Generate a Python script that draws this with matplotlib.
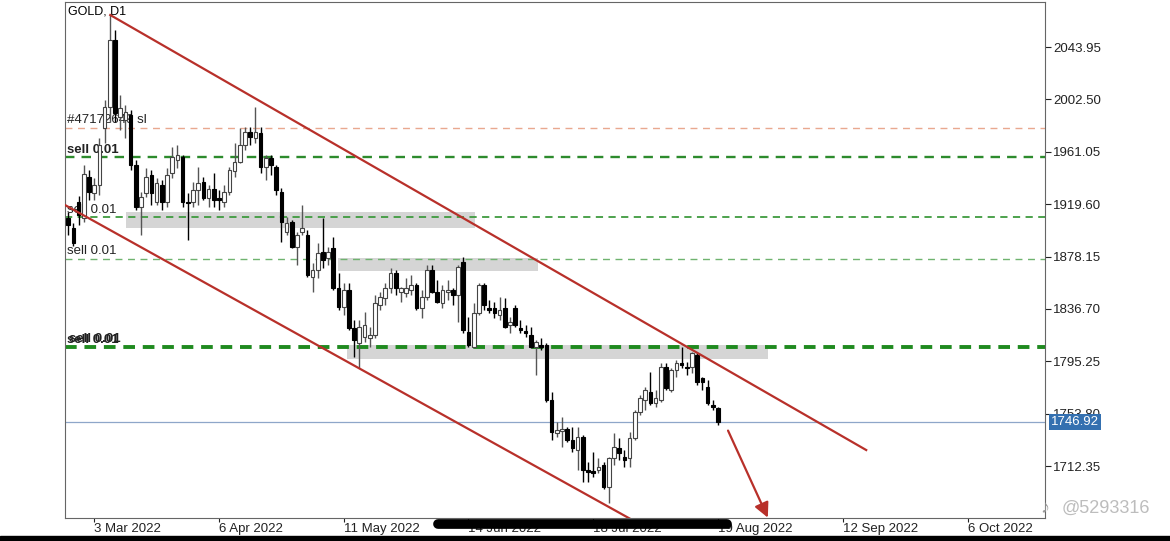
import numpy as np
import matplotlib.pyplot as plt
from matplotlib.patches import Rectangle
from matplotlib.lines import Line2D
import matplotlib.transforms as mtransforms

plt.rcParams['font.family'] = ['Liberation Sans', 'DejaVu Sans']

# daily candles (bar index 0 = 24 Feb 2022)
opens = [1908.6, 1900.7, 1921.3, 1908.6, 1941.1, 1928.4, 1934.7, 1979.9, 1996.5, 2049.5,
         1988.6, 1986.2, 1990.1, 1950.6, 1917.3, 1928.4, 1942.7, 1921.3, 1934.7, 1921.3,
         1944.2, 1954.5, 1956.9, 1921.3, 1921.3, 1930.8, 1937.1, 1924.5, 1931.6, 1924.5,
         1921.3, 1929.2, 1945.8, 1952.9, 1966.4, 1976.7, 1971.9, 1975.9, 1949.0, 1956.1,
         1949.0, 1929.2, 1897.5, 1905.5, 1885.7, 1897.5, 1895.2, 1861.9, 1867.5, 1881.7,
         1877.0, 1884.9, 1853.2, 1838.2, 1851.6, 1821.6, 1809.7, 1814.5, 1813.7, 1816.0,
         1839.8, 1845.3, 1853.2, 1865.1, 1850.1, 1849.3, 1851.6, 1855.6, 1837.4, 1846.1,
         1867.5, 1850.1, 1841.4, 1850.1, 1851.6, 1847.7, 1873.8, 1818.4, 1806.5, 1833.4,
         1855.6, 1837.4, 1837.4, 1831.9, 1837.4, 1824.0, 1837.4, 1821.6, 1819.2, 1816.0,
         1806.5, 1808.1, 1808.1, 1764.6, 1738.5, 1740.0, 1741.6, 1732.9, 1725.0, 1735.3,
         1709.2, 1708.4, 1709.2, 1713.1, 1695.7, 1718.7, 1726.6, 1719.5, 1718.7, 1734.5,
         1755.1, 1764.6, 1770.9, 1762.2, 1764.6, 1790.7, 1772.5, 1788.3, 1793.9, 1790.7,
         1790.7, 1800.2, 1782.0, 1774.9, 1760.6, 1758.3]
highs = [1913.4, 1904.7, 1926.0, 1950.6, 1946.6, 1940.3, 1971.9, 2002.0, 2069.3, 2057.4,
         2006.0, 1998.1, 1994.1, 1954.5, 1929.2, 1948.2, 1946.6, 1940.3, 1938.7, 1948.2,
         1964.8, 1966.4, 1958.5, 1928.4, 1937.1, 1949.0, 1941.1, 1934.7, 1944.2, 1930.8,
         1934.7, 1949.0, 1968.0, 1979.9, 1980.6, 1980.6, 1996.5, 1980.6, 1958.5, 1958.5,
         1950.6, 1932.4, 1909.4, 1907.0, 1897.5, 1918.9, 1899.1, 1873.0, 1888.8, 1908.6,
         1885.7, 1893.6, 1865.1, 1857.2, 1857.2, 1827.9, 1827.9, 1834.2, 1822.4, 1847.7,
         1850.1, 1857.2, 1869.1, 1867.5, 1854.0, 1861.1, 1863.5, 1857.2, 1851.6, 1871.4,
         1871.4, 1859.6, 1855.6, 1859.6, 1853.2, 1871.4, 1877.8, 1830.3, 1841.4, 1857.2,
         1857.2, 1843.7, 1842.2, 1846.1, 1845.3, 1830.3, 1839.8, 1827.9, 1824.0, 1822.4,
         1812.1, 1813.7, 1809.7, 1770.9, 1747.2, 1751.1, 1743.2, 1743.2, 1743.2, 1736.9,
         1715.5, 1723.4, 1718.7, 1715.5, 1719.5, 1738.5, 1734.5, 1725.0, 1739.3, 1756.7,
         1768.5, 1774.9, 1786.8, 1772.5, 1793.9, 1793.9, 1789.9, 1796.2, 1806.5, 1794.7,
         1802.6, 1801.8, 1782.8, 1780.4, 1764.6, 1759.0]
lows = [1895.2, 1886.5, 1903.1, 1905.5, 1922.9, 1922.9, 1926.8, 1968.0, 1984.6, 1984.6,
        1978.3, 1971.9, 1946.6, 1915.0, 1895.2, 1925.3, 1918.9, 1918.9, 1915.0, 1917.3,
        1940.3, 1948.2, 1917.3, 1891.2, 1917.3, 1918.9, 1922.9, 1917.3, 1917.3, 1915.0,
        1917.3, 1926.8, 1941.1, 1952.1, 1962.4, 1966.4, 1968.0, 1944.2, 1938.7, 1942.7,
        1926.8, 1889.6, 1895.2, 1884.9, 1871.4, 1895.2, 1861.9, 1850.1, 1861.1, 1869.1,
        1871.4, 1851.6, 1835.8, 1831.9, 1820.0, 1798.6, 1789.9, 1810.5, 1806.5, 1813.7,
        1835.8, 1839.8, 1849.3, 1847.7, 1842.2, 1846.1, 1847.7, 1835.8, 1829.5, 1843.7,
        1849.3, 1841.4, 1837.4, 1843.7, 1839.8, 1826.3, 1817.6, 1806.5, 1805.8, 1831.9,
        1835.8, 1833.4, 1829.5, 1827.9, 1821.6, 1817.6, 1822.4, 1817.6, 1814.5, 1805.8,
        1784.4, 1804.2, 1763.0, 1732.9, 1735.3, 1727.4, 1731.3, 1723.4, 1709.2, 1699.7,
        1699.7, 1703.6, 1706.8, 1694.1, 1683.1, 1713.1, 1717.1, 1711.6, 1711.6, 1732.9,
        1752.7, 1756.7, 1760.6, 1759.0, 1763.0, 1772.5, 1770.9, 1782.8, 1789.9, 1784.4,
        1786.0, 1776.5, 1772.5, 1760.6, 1756.7, 1744.8]
closes = [1903.1, 1888.8, 1911.0, 1943.5, 1929.2, 1934.7, 1966.4, 1996.5, 2049.5, 1991.7,
          1995.7, 1992.5, 1950.6, 1917.3, 1925.3, 1941.1, 1928.4, 1936.3, 1921.3, 1942.7,
          1956.9, 1958.5, 1921.3, 1920.5, 1930.8, 1936.3, 1924.5, 1931.6, 1922.9, 1922.9,
          1929.2, 1946.6, 1952.9, 1966.4, 1976.7, 1972.7, 1976.7, 1949.0, 1956.1, 1950.6,
          1930.8, 1905.5, 1904.7, 1885.7, 1895.2, 1900.7, 1863.5, 1867.5, 1880.9, 1875.4,
          1881.7, 1853.2, 1838.2, 1851.6, 1821.6, 1812.1, 1822.4, 1824.0, 1816.0, 1841.4,
          1846.1, 1853.2, 1865.1, 1853.2, 1853.2, 1853.2, 1855.6, 1837.4, 1846.1, 1867.5,
          1850.1, 1842.2, 1851.6, 1851.6, 1847.7, 1869.8, 1820.0, 1808.1, 1833.4, 1855.6,
          1839.8, 1835.8, 1833.4, 1835.8, 1822.4, 1826.3, 1824.0, 1820.0, 1817.6, 1806.5,
          1810.5, 1806.5, 1764.6, 1739.3, 1740.8, 1741.6, 1732.9, 1726.6, 1735.3, 1709.2,
          1707.6, 1706.8, 1711.6, 1695.7, 1718.7, 1727.4, 1722.6, 1717.1, 1734.5, 1755.1,
          1766.2, 1772.5, 1762.2, 1766.2, 1790.7, 1774.1, 1788.3, 1793.9, 1792.3, 1789.9,
          1801.8, 1778.8, 1778.8, 1762.2, 1759.0, 1746.92]

date_ticks = [5, 29, 53, 77, 101, 125, 149, 173]
date_labels = ['3 Mar 2022', '6 Apr 2022', '11 May 2022', '14 Jun 2022',
               '18 Jul 2022', '19 Aug 2022', '12 Sep 2022', '6 Oct 2022']
price_ticks = [2043.95, 2002.50, 1961.05, 1919.60, 1878.15, 1836.70, 1795.25, 1753.80, 1712.35]
last_price = 1746.92

order_prices = [1979.9, 1956.9, 1909.4, 1876.2, 1806.5]
order_labels = ['#47172649 sl', 'sell 0.01', 'sell 0.01', 'sell 0.01', 'sell 0.01']

# support / resistance zones: (start bar, end bar, low, high)
zones = [(11.2, 78.3, 1900.7, 1913.4),
         (51.9, 90.4, 1866.7, 1877.0),
         (53.7, 134.6, 1797.0, 1808.1)]

upper_x, upper_y = [8.1, 153.5], [2069.3, 1725.0]
lower_x, lower_y = [-0.6, 115.0], [1918.9, 1654.8]
arrow_from, arrow_to = (126.7, 1742.4), (134.8, 1669.5)

fig = plt.figure(figsize=(11.7, 5.41), dpi=100)
ax = fig.add_axes([0.0556, 0.0425, 0.8376, 0.9538])

o = np.array(opens); h = np.array(highs); l = np.array(lows); c = np.array(closes)
x = np.arange(len(o))
up = c >= o

for z in zones:
    ax.add_patch(Rectangle((z[0], z[2]), z[1] - z[0], z[3] - z[2],
                           facecolor='#d5d5d5', edgecolor='none', zorder=1))

styles = [('#e9a88f', 1.0, (5, 4), 'normal'),
          ('#2d8b2d', 1.7, (4, 3), 'bold'),
          ('#3f9b3f', 1.3, (4, 3), 'normal'),
          ('#6fb36f', 1.0, (5, 4), 'normal'),
          ('#1f8a1f', 2.8, (3, 2), 'bold')]
for p, lab, st in zip(order_prices, order_labels, styles):
    ax.axhline(p, color=st[0], lw=st[1], dashes=st[2], zorder=2)
    ax.text(-0.2, p + 1.2, lab, fontsize=9.5, fontweight=st[3], color='#222222',
            va='bottom', ha='left', zorder=2)
ax.text(0.1, order_prices[-1] + 1.5, order_labels[-1], fontsize=9.5, fontweight='bold',
        color='#222222', va='bottom', ha='left', zorder=2)

ax.axhline(last_price, color='#8ea6c9', lw=0.9, zorder=2)

# candles
ax.vlines(x[up], l[up], h[up], color='#555555', lw=1, zorder=3)
ax.vlines(x[~up], l[~up], h[~up], color='black', lw=1, zorder=3)
body = np.maximum(np.abs(c - o), 1.0)
ax.bar(x[up], body[up], bottom=np.minimum(o, c)[up], width=0.7,
       color='white', edgecolor='#444444', linewidth=0.8, zorder=4)
ax.bar(x[~up], body[~up], bottom=np.minimum(o, c)[~up], width=0.7,
       color='black', edgecolor='black', linewidth=0.8, zorder=4)

ax.plot(upper_x, upper_y, color='#b8302a', lw=1.6, zorder=5)
ax.plot(lower_x, lower_y, color='#b8302a', lw=1.6, zorder=5)
ax.annotate('', xy=arrow_to, xytext=arrow_from, annotation_clip=False, zorder=6,
            arrowprops=dict(arrowstyle='-|>', color='#b8302a', lw=1.6, mutation_scale=22))

ax.text(0.003, 0.993, 'GOLD, D1', transform=ax.transAxes, fontsize=9, va='top', ha='left')

ax.set_xlim(-0.6, 187.9)
ax.set_ylim(1671.2, 2079.6)

ax.yaxis.tick_right()
ax.set_yticks(price_ticks)
ax.set_yticklabels(['%.2f' % v for v in price_ticks])
ax.set_xticks(date_ticks)
ax.set_xticklabels(date_labels, ha='left')
ax.tick_params(axis='y', length=4, pad=2, labelsize=9.5, colors='#222222')
ax.tick_params(axis='x', length=3, pad=0.5, labelsize=9.5, colors='#222222')
for s in ax.spines.values():
    s.set_color('#666666')
    s.set_linewidth(0.8)

trans = mtransforms.blended_transform_factory(ax.transAxes, ax.transData)
ax.text(1.006, last_price, '1746.92', transform=trans, fontsize=9.5, color='white',
        va='center', ha='left', zorder=10, clip_on=False,
        bbox=dict(boxstyle='square,pad=0.15', fc='#3470b0', ec='none'))

# redaction stroke over the dates and bottom band
fig.add_artist(Line2D([438 / 1170, 727 / 1170], [1 - 524 / 541, 1 - 524 / 541],
                      lw=7, color='black', solid_capstyle='round', transform=fig.transFigure))
fig.add_artist(Rectangle((0, 0), 1, 5 / 541, transform=fig.transFigure, color='black'))

fig.text(1040 / 1170, 1 - 508 / 541, '\u266a', fontsize=13, color='#9a9a9a', va='center')
fig.text(1062 / 1170, 1 - 508 / 541, '@5293316', fontsize=13, color='#bdbdbd', va='center')

fig.savefig('out.png', dpi=100)
